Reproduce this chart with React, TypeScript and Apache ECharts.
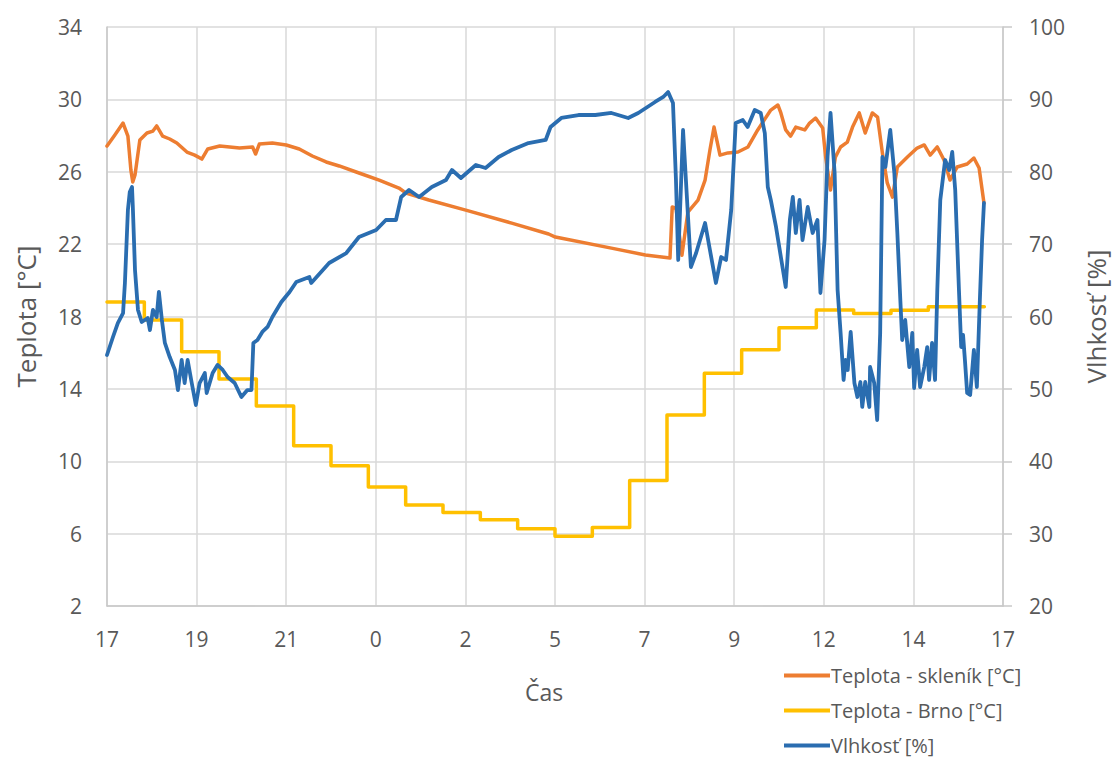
import React, { useEffect, useRef } from "react";
import * as echarts from "echarts";

// X axis: hours elapsed since 17:00 (0..24), ticks every 2.4 h
const xTickLabels = ["17", "19", "21", "0", "2", "5", "7", "9", "12", "14", "17"];

// Teplota - Brno [°C] (hourly step values)
const brnoHours = [0, 1, 2, 3, 4, 5, 6, 7, 8, 9, 10, 11, 12, 13, 14, 15, 16, 17, 18, 19, 20, 21, 22, 23.5];
const brnoTemp = [18.8, 17.8, 16.05, 14.55, 13.05, 10.85, 9.75, 8.57, 7.58, 7.17, 6.76, 6.27, 5.86, 6.34, 8.94, 12.55, 14.87, 16.16, 17.38, 18.36, 18.17, 18.34, 18.54, 18.54];

// Teplota - skleník [°C]: [hours since 17:00, °C]
const greenhouseTemp: [number, number][] = [
  [0, 27.42], [0.21, 28.03], [0.43, 28.69], [0.56, 27.97], [0.64, 26.09], [0.69, 25.43], [0.75, 25.82],
  [0.88, 27.75], [1.07, 28.14], [1.23, 28.25], [1.33, 28.53], [1.49, 27.97], [1.68, 27.81], [1.87, 27.59],
  [2.14, 27.09], [2.35, 26.92], [2.54, 26.7], [2.7, 27.26], [3.02, 27.42], [3.55, 27.31], [3.9, 27.37],
  [3.98, 26.98], [4.08, 27.53], [4.43, 27.59], [4.8, 27.48], [5.15, 27.26], [5.5, 26.87], [5.87, 26.54],
  [6.22, 26.32], [6.75, 25.93], [7.29, 25.54], [7.82, 25.1], [8.01, 24.82], [8.62, 24.44], [9.61, 23.88],
  [10.84, 23.16], [11.83, 22.56], [12.01, 22.39], [13.51, 21.78], [14.42, 21.4], [15.08, 21.23],
  [15.14, 24.05], [15.24, 23.99], [15.4, 21.39], [15.56, 23.77], [15.83, 24.43], [16.02, 25.54],
  [16.15, 27.2], [16.26, 28.47], [16.42, 26.92], [16.63, 27.04], [16.9, 27.09], [17.17, 27.37],
  [17.43, 28.31], [17.78, 29.41], [17.97, 29.69], [18.05, 29.25], [18.18, 28.31], [18.31, 27.97],
  [18.45, 28.47], [18.69, 28.31], [18.82, 28.69], [18.98, 28.97], [19.17, 28.42], [19.25, 26.81],
  [19.38, 24.99], [19.51, 26.81], [19.65, 27.37], [19.83, 27.64], [19.97, 28.47], [20.15, 29.25],
  [20.31, 28.14], [20.5, 29.25], [20.64, 29.02], [20.77, 27.03], [20.9, 25.38], [21.04, 24.6],
  [21.17, 26.26], [21.44, 26.81], [21.7, 27.31], [21.89, 27.48], [22.05, 26.92], [22.24, 27.37],
  [22.42, 26.65], [22.58, 25.54], [22.77, 26.26], [23.04, 26.43], [23.22, 26.76], [23.36, 26.21],
  [23.49, 24.27],
];

// Vlhkosť [%]: [hours since 17:00, %]
const humidity: [number, number][] = [
  [0, 54.68], [0.16, 57.17], [0.29, 59.1], [0.43, 60.48], [0.48, 64.63], [0.56, 74.71], [0.61, 77.2],
  [0.67, 77.89], [0.69, 75.4], [0.75, 66.42], [0.83, 60.9], [0.93, 59.24], [1.09, 59.79], [1.15, 58.13],
  [1.23, 60.9], [1.33, 59.93], [1.39, 63.39], [1.47, 59.52], [1.55, 56.34], [1.68, 54.4], [1.82, 52.61],
  [1.9, 49.84], [2.0, 53.99], [2.08, 50.81], [2.16, 53.99], [2.27, 50.81], [2.38, 47.77], [2.48, 50.81],
  [2.62, 52.19], [2.67, 49.43], [2.83, 52.19], [2.96, 53.3], [3.1, 52.61], [3.23, 51.64], [3.42, 50.81],
  [3.6, 48.88], [3.76, 49.84], [3.87, 49.84], [3.92, 56.34], [4.03, 56.75], [4.16, 57.86], [4.3, 58.55],
  [4.43, 59.93], [4.67, 62.0], [4.89, 63.39], [5.07, 64.77], [5.42, 65.46], [5.47, 64.63], [5.95, 67.39],
  [6.41, 68.77], [6.75, 70.98], [7.21, 71.95], [7.47, 73.33], [7.74, 73.33], [7.88, 76.51], [8.09, 77.48],
  [8.36, 76.51], [8.7, 77.89], [9.08, 78.86], [9.24, 80.24], [9.48, 79.14], [9.88, 80.93], [10.14, 80.52],
  [10.49, 82.04], [10.84, 83.0], [11.29, 83.97], [11.75, 84.39], [11.88, 86.18], [12.17, 87.43],
  [12.63, 87.84], [13.08, 87.84], [13.51, 88.12], [13.96, 87.43], [14.23, 88.12], [14.68, 89.64],
  [14.9, 90.33], [15.03, 91.02], [15.16, 89.5], [15.24, 78.86], [15.3, 67.81], [15.43, 85.77],
  [15.64, 66.84], [15.78, 68.77], [16.02, 72.92], [16.15, 69.19], [16.31, 64.63], [16.45, 68.22],
  [16.58, 67.81], [16.72, 74.71], [16.84, 86.74], [17.03, 87.15], [17.16, 86.18], [17.35, 88.53],
  [17.51, 88.12], [17.62, 85.35], [17.7, 77.89], [17.78, 76.1], [17.92, 72.37], [18.05, 68.22],
  [18.18, 64.08], [18.29, 73.33], [18.37, 76.51], [18.45, 71.54], [18.55, 76.1], [18.63, 70.57],
  [18.77, 75.13], [18.9, 71.54], [19.03, 73.33], [19.11, 63.25], [19.22, 70.57], [19.3, 82.04],
  [19.38, 88.12], [19.49, 79.83], [19.57, 63.66], [19.65, 57.72], [19.73, 51.23], [19.78, 53.99],
  [19.84, 52.61], [19.92, 57.86], [20.02, 50.81], [20.1, 48.88], [20.18, 50.95], [20.23, 47.5],
  [20.31, 50.95], [20.42, 47.5], [20.44, 53.02], [20.55, 50.81], [20.63, 45.7], [20.71, 57.72],
  [20.77, 82.04], [20.85, 80.66], [20.98, 85.77], [21.09, 79.83], [21.17, 71.54], [21.25, 62.28],
  [21.3, 56.75], [21.38, 59.52], [21.49, 53.02], [21.57, 57.72], [21.62, 50.12], [21.7, 55.37],
  [21.78, 50.26], [21.89, 53.02], [21.97, 55.78], [22.02, 51.23], [22.1, 56.34], [22.18, 51.23],
  [22.24, 63.66], [22.32, 76.1], [22.45, 81.62], [22.56, 80.24], [22.64, 82.73], [22.72, 77.48],
  [22.82, 63.66], [22.88, 55.78], [22.93, 57.45], [22.98, 53.99], [23.04, 49.43], [23.12, 49.15],
  [23.22, 55.37], [23.3, 50.26], [23.38, 62.28], [23.44, 70.57], [23.49, 75.68],
];

const FONT = "'Open Sans', 'Noto Sans', sans-serif";
const TEXT = "#595959";
const GRID = "#d9d9d9";
const AXIS = "#c8c8c8";

export default function App() {
  const ref = useRef<HTMLDivElement>(null);

  useEffect(() => {
    if (!ref.current) return;
    const chart = echarts.init(ref.current, undefined, { renderer: "svg" });
    const brnoData = brnoHours.map((h, i) => [h, brnoTemp[i]]);
    chart.setOption({
      animation: false,
      backgroundColor: "#ffffff",
      textStyle: { fontFamily: FONT },
      grid: { left: 107, right: 111, top: 27, bottom: 161, containLabel: false },
      legend: {
        orient: "vertical",
        left: 779,
        top: 657,
        height: 200,
        width: 340,
        icon: "rect",
        itemWidth: 46,
        itemHeight: 4,
        itemGap: 8,
        textStyle: { fontFamily: FONT, fontSize: 20, color: TEXT, padding: [0, 0, 0, -4], lineHeight: 27 },
        data: ["Teplota - skleník [°C]", "Teplota - Brno [°C]", "Vlhkosť [%]"],
      },
      xAxis: {
        type: "value",
        min: 0,
        max: 24,
        interval: 2.4,
        name: "Čas",
        nameLocation: "middle",
        nameGap: 74,
        nameTextStyle: { fontFamily: FONT, fontSize: 23, color: TEXT, padding: [0, 22, 0, 0] },
        axisLine: { show: true, lineStyle: { color: AXIS, width: 1.5 } },
        axisTick: { show: false },
        splitLine: { show: true, lineStyle: { color: GRID, width: 1.5 } },
        axisLabel: {
          fontFamily: FONT,
          fontSize: 21,
          color: TEXT,
          margin: 22,
          formatter: (v: number) => xTickLabels[Math.round(v / 2.4)] ?? "",
        },
      },
      yAxis: [
        {
          type: "value",
          min: 2,
          max: 34,
          interval: 4,
          name: "Teplota [°C]",
          nameLocation: "middle",
          nameGap: 68,
          nameRotate: 90,
          nameTextStyle: { fontFamily: FONT, fontSize: 26, color: TEXT },
          axisLine: { show: true, lineStyle: { color: AXIS, width: 1.5 } },
          axisTick: { show: false },
          splitLine: { show: true, lineStyle: { color: GRID, width: 1.5 } },
          axisLabel: { fontFamily: FONT, fontSize: 21, color: TEXT, margin: 25 },
        },
        {
          type: "value",
          min: 20,
          max: 100,
          interval: 10,
          position: "right",
          name: "Vlhkosť [%]",
          nameLocation: "middle",
          nameGap: 80,
          nameRotate: 90,
          nameTextStyle: { fontFamily: FONT, fontSize: 26, color: TEXT },
          axisLine: { show: true, lineStyle: { color: AXIS, width: 1.5 } },
          axisTick: { show: true, length: 9, lineStyle: { color: AXIS, width: 1.5 } },
          splitLine: { show: false },
          axisLabel: { fontFamily: FONT, fontSize: 21, color: TEXT, margin: 26 },
        },
      ],
      series: [
        {
          name: "Teplota - skleník [°C]",
          type: "line",
          yAxisIndex: 0,
          data: greenhouseTemp,
          symbol: "none",
          color: "#ED7D31",
          lineStyle: { color: "#ED7D31", width: 3.5, cap: "round", join: "round" },
        },
        {
          name: "Teplota - Brno [°C]",
          type: "line",
          yAxisIndex: 0,
          step: "end",
          data: brnoData,
          symbol: "none",
          color: "#FFC000",
          lineStyle: { color: "#FFC000", width: 3.5, cap: "round", join: "round" },
        },
        {
          name: "Vlhkosť [%]",
          type: "line",
          yAxisIndex: 1,
          data: humidity,
          symbol: "none",
          color: "#2A6DB0",
          lineStyle: { color: "#2A6DB0", width: 3.8, cap: "round", join: "round" },
        },
      ],
    });
    return () => chart.dispose();
  }, []);

  return (
    <div
      ref={ref}
      style={{ position: "fixed", left: 0, top: 0, width: 1117, height: 767, background: "#fff" }}
    />
  );
}
